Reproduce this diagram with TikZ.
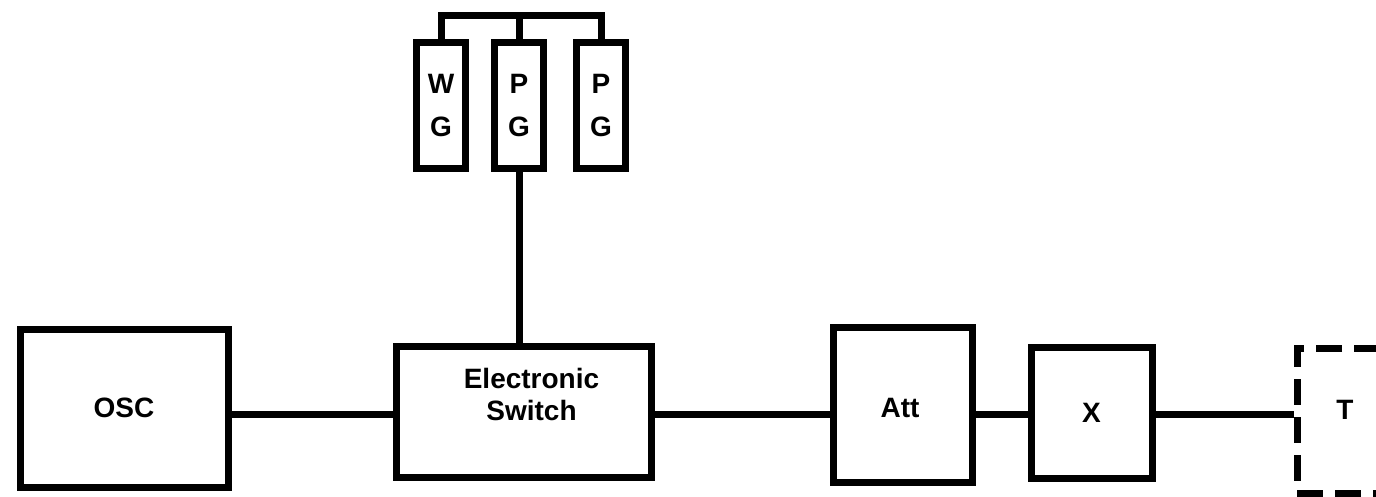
\documentclass[tikz,border=0pt]{standalone}
\usepackage{fontspec}
\setmainfont{Liberation Sans}
\usepackage{tikz}
\usetikzlibrary{positioning}

\begin{document}
\begin{tikzpicture}[x=1pt, y=-1pt, line width=7pt,
  every node/.style={font=\fontsize{28}{32}\selectfont\bfseries},
  blk/.style={draw, rectangle, inner sep=0pt},
  gen/.style={blk, minimum width=49pt, minimum height=126pt, align=center,
    font=\fontsize{28}{43}\selectfont\bfseries},
  dashbox/.style={blk, dash pattern=on 26pt off 12pt}]
  \clip (0,0) rectangle (1376,496);
  \fill[white] (0,0) rectangle (1376,496);
  \coordinate (lvl) at (0,414);
  \coordinate (top) at (0,15);

  % main chain
  \node[blk, minimum width=208pt, minimum height=158pt] (osc) at (124,408) {OSC};
  \node[blk, minimum width=255pt, minimum height=131pt] (sw) at (523.5,411.5) {};
  \node[align=center] (swlbl) at ([xshift=8pt, yshift=17.5pt]sw.center) {Electronic\\Switch};
  \node[blk, minimum width=139pt, minimum height=155pt] (att) at (902.5,404.5) {};
  \node (attlbl) at (900,408) {Att};
  \node[blk, minimum width=121pt, minimum height=131pt] (xb) at (1091.5,412.5) {X};
  \node[dashbox, minimum width=140pt, minimum height=145pt] (t) at (1367,420.5) {};
  \node (tlbl) at (1345,410) {T};

  % generators
  \node[gen] (wg) at (441,105.5) {W\\G};
  \node[gen, right of=wg, node distance=78pt] (pg1) {P\\G};
  \node[gen, right of=pg1, node distance=82pt] (pg2) {P\\G};

  \draw (wg.north) -- (wg.north |- top) -- (pg2.north |- top) -- (pg2.north);
  \draw (pg1.north) -- (pg1.north |- top);
  \draw (pg1.south) -- (pg1.south |- sw.north);

  \draw (osc.east |- lvl) -- (sw.west |- lvl);
  \draw (sw.east |- lvl) -- (att.west |- lvl);
  \draw (att.east |- lvl) -- (xb.west |- lvl);
  \draw (xb.east |- lvl) -- (t.west |- lvl);
\end{tikzpicture}
\end{document}
